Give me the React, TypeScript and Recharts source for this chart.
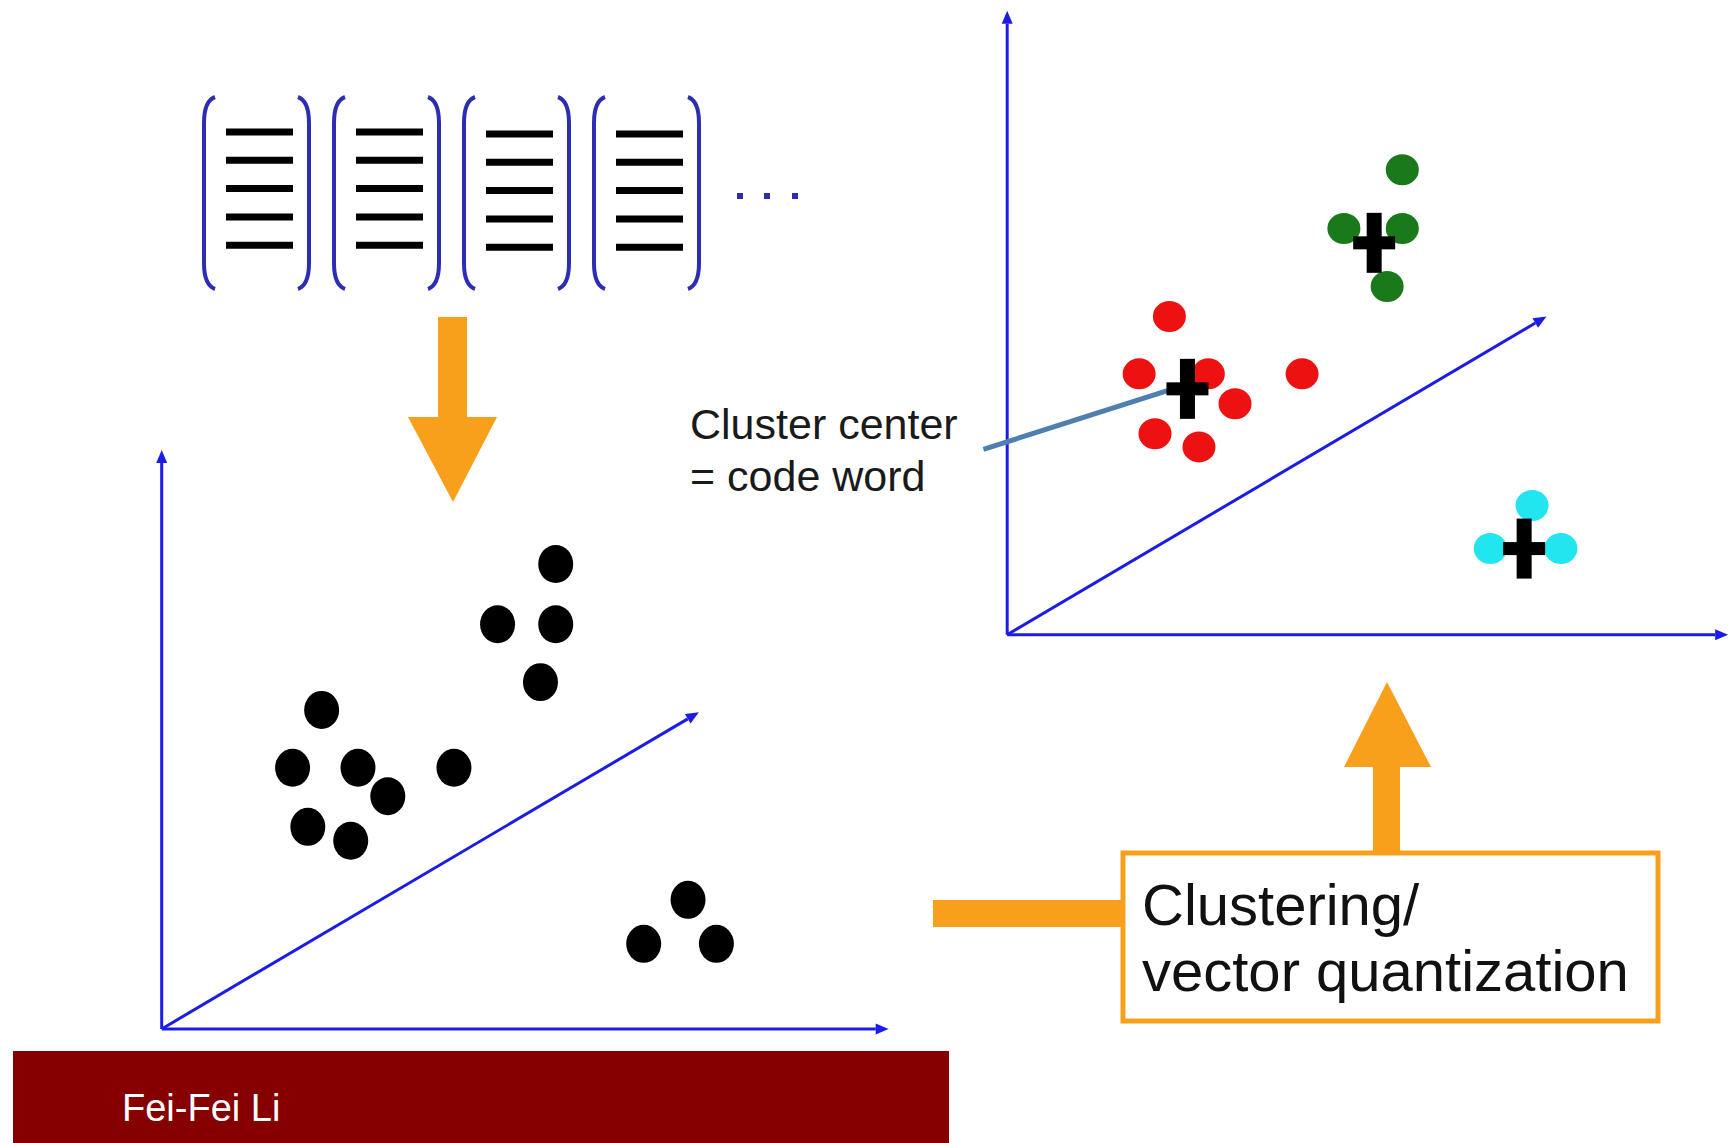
import React from "react"
import { ReferenceLine, Scatter, ScatterChart, XAxis, YAxis } from "recharts"

// feature space values, read in axis units (0..10 along each drawn axis)
const featurePoints = [
  { x: 5.42, y: 8.03 },
  { x: 4.62, y: 6.99 },
  { x: 5.42, y: 6.99 },
  { x: 5.21, y: 5.99 },
  { x: 2.2, y: 5.51 },
  { x: 1.8, y: 4.51 },
  { x: 2.7, y: 4.51 },
  { x: 3.11, y: 4.02 },
  { x: 4.02, y: 4.51 },
  { x: 2.01, y: 3.49 },
  { x: 2.6, y: 3.25 },
  { x: 7.24, y: 2.23 },
  { x: 6.63, y: 1.47 },
  { x: 7.63, y: 1.47 },
]

const redCluster = [
  { x: 2.25, y: 5.1 },
  { x: 1.83, y: 4.18 },
  { x: 2.79, y: 4.18 },
  { x: 3.16, y: 3.7 },
  { x: 4.09, y: 4.18 },
  { x: 2.05, y: 3.22 },
  { x: 2.66, y: 3.01 },
]

const greenCluster = [
  { x: 5.48, y: 7.45 },
  { x: 4.67, y: 6.51 },
  { x: 5.48, y: 6.51 },
  { x: 5.27, y: 5.58 },
]

const cyanCluster = [
  { x: 7.28, y: 2.07 },
  { x: 6.7, y: 1.38 },
  { x: 7.68, y: 1.38 },
]

const codeWords = [
  { x: 2.5, y: 3.94 },
  { x: 5.09, y: 6.28 },
  { x: 7.17, y: 1.38 },
]

const leftDiagonal = { x: 7.39, y: 5.47 }
const rightDiagonal = { x: 7.48, y: 5.1 }
const pointerLine = [
  { x: -0.33, y: 2.97 },
  { x: 2.3, y: 3.94 },
]

const labelLines = ["Cluster center", "= code word"]
const boxLines = ["Clustering/", "vector quantization"]
const author = "Fei-Fei Li"
const documentCount = 4
const linesPerDocument = 5

const blue = "#1c1ce6"
const navy = "#2d2db4"
const orange = "#f8a01c"
const font = "'Liberation Sans', Arial, sans-serif"

function ArrowLine(props: any) {
  const { x1, y1, x2, y2 } = props
  const a = Math.atan2(y2 - y1, x2 - x1)
  const len = 13
  const half = 5.5
  const bx = x2 - len * Math.cos(a)
  const by = y2 - len * Math.sin(a)
  const px = -Math.sin(a) * half
  const py = Math.cos(a) * half
  return (
    <g>
      <line x1={x1} y1={y1} x2={bx} y2={by} stroke={blue} strokeWidth={3} />
      <polygon
        points={`${x2},${y2} ${bx + px},${by + py} ${bx - px},${by - py}`}
        fill={blue}
      />
    </g>
  )
}

function PlainLine(props: any) {
  const { x1, y1, x2, y2 } = props
  return <line x1={x1} y1={y1} x2={x2} y2={y2} stroke="#4f7eb0" strokeWidth={5} />
}

const dot = (fill: string, rx: number, ry: number) => (p: any) =>
  <ellipse cx={p.cx} cy={p.cy} rx={rx} ry={ry} fill={fill} />

const cross = (p: any) => (
  <g>
    <rect x={p.cx - 7.5} y={p.cy - 30} width={15} height={60} fill="#000" />
    <rect x={p.cx - 21} y={p.cy - 6.5} width={42} height={13} fill="#000" />
  </g>
)

function axes(diagonal: { x: number; y: number }) {
  return [
    <ReferenceLine key="ax" segment={[{ x: 0, y: 0 }, { x: 10, y: 0 }]} shape={ArrowLine} />,
    <ReferenceLine key="ay" segment={[{ x: 0, y: 0 }, { x: 0, y: 10 }]} shape={ArrowLine} />,
    <ReferenceLine key="ad" segment={[{ x: 0, y: 0 }, diagonal]} shape={ArrowLine} />,
  ]
}

function Decorations() {
  const docs = []
  for (let i = 0; i < documentCount; i++) {
    const L = 204 + i * 130
    const R = L + 105
    const T = 97
    const B = 289
    docs.push(
      <g key={i}>
        <path
          d={`M ${L + 11} ${T} Q ${L} ${T + 4} ${L} ${T + 26} L ${L} ${B - 26} Q ${L} ${B - 4} ${L + 11} ${B}`}
          stroke={navy}
          strokeWidth={4}
          fill="none"
        />
        <path
          d={`M ${R - 11} ${T} Q ${R} ${T + 4} ${R} ${T + 26} L ${R} ${B - 26} Q ${R} ${B - 4} ${R - 11} ${B}`}
          stroke={navy}
          strokeWidth={4}
          fill="none"
        />
        {Array.from({ length: linesPerDocument }).map((_, j) => (
          <line
            key={j}
            x1={L + 22}
            x2={L + 89}
            y1={132 + j * 28.3 + (i > 1 ? 2 : 0)}
            y2={132 + j * 28.3 + (i > 1 ? 2 : 0)}
            stroke="#000"
            strokeWidth={7}
          />
        ))}
      </g>
    )
  }
  return (
    <svg width={1731} height={1143} style={{ position: "absolute", left: 0, top: 0 }}>
      {docs}
      {[740, 767, 795].map((x) => (
        <rect key={x} x={x - 3} y={193} width={6} height={6} fill={navy} />
      ))}
      {/* down arrow */}
      <rect x={438} y={317} width={29} height={101} fill={orange} />
      <polygon points="408,417 497,417 453,502" fill={orange} />
      {/* up arrow + connector */}
      <rect x={1373} y={766} width={27} height={90} fill={orange} />
      <polygon points="1344,767 1431,767 1387,682" fill={orange} />
      <rect x={933} y={900} width={192} height={27} fill={orange} />
      <rect x={1123} y={853} width={535} height={168} fill="#fff" stroke={orange} strokeWidth={5} />
      {boxLines.map((t, i) => (
        <text key={t} x={1142} y={925 + i * 66} fontSize={58} fontFamily={font} fill="#111">
          {t}
        </text>
      ))}
      {labelLines.map((t, i) => (
        <text key={t} x={690} y={439 + i * 52} fontSize={43} fontFamily={font} fill="#1a1a1a">
          {t}
        </text>
      ))}
      <rect x={13} y={1051} width={936} height={92} fill="#870000" />
      <text x={122} y={1121} fontSize={38} fontFamily={font} fill="#fff">
        {author}
      </text>
    </svg>
  )
}

export default function App() {
  return (
    <div
      style={{
        position: "absolute",
        left: 0,
        top: 0,
        width: 1731,
        height: 1143,
        overflow: "hidden",
        background: "#fff",
      }}
    >
      <Decorations />
      {/* raw feature space */}
      <div style={{ position: "absolute", left: 89.3, top: 421.05 }}>
        <ScatterChart width={872.4} height={636.9} margin={{ top: 0, right: 0, bottom: 0, left: 0 }}>
          <XAxis type="number" dataKey="x" domain={[-1, 11]} allowDataOverflow hide />
          <YAxis type="number" dataKey="y" domain={[-0.5, 10.5]} allowDataOverflow hide />
          {axes(leftDiagonal)}
          <Scatter data={featurePoints} shape={dot("#000", 17.5, 19)} isAnimationActive={false} />
        </ScatterChart>
      </div>
      {/* clustered space */}
      <div style={{ position: "absolute", left: 862.8, top: -7.72 }}>
        <ScatterChart width={879.6} height={673.9} margin={{ top: 0, right: 0, bottom: 0, left: 0 }}>
          <XAxis type="number" dataKey="x" domain={[-2, 10.2]} allowDataOverflow hide />
          <YAxis type="number" dataKey="y" domain={[-0.5, 10.3]} allowDataOverflow hide />
          {axes(rightDiagonal)}
          <Scatter data={redCluster} shape={dot("#ee1111", 16.5, 15.5)} isAnimationActive={false} />
          <Scatter data={greenCluster} shape={dot("#1a7a1a", 16.5, 15.5)} isAnimationActive={false} />
          <Scatter data={cyanCluster} shape={dot("#22e5f0", 16.5, 15.5)} isAnimationActive={false} />
          <ReferenceLine segment={pointerLine} shape={PlainLine} />
          <Scatter data={codeWords} shape={cross} isAnimationActive={false} />
        </ScatterChart>
      </div>
    </div>
  )
}
